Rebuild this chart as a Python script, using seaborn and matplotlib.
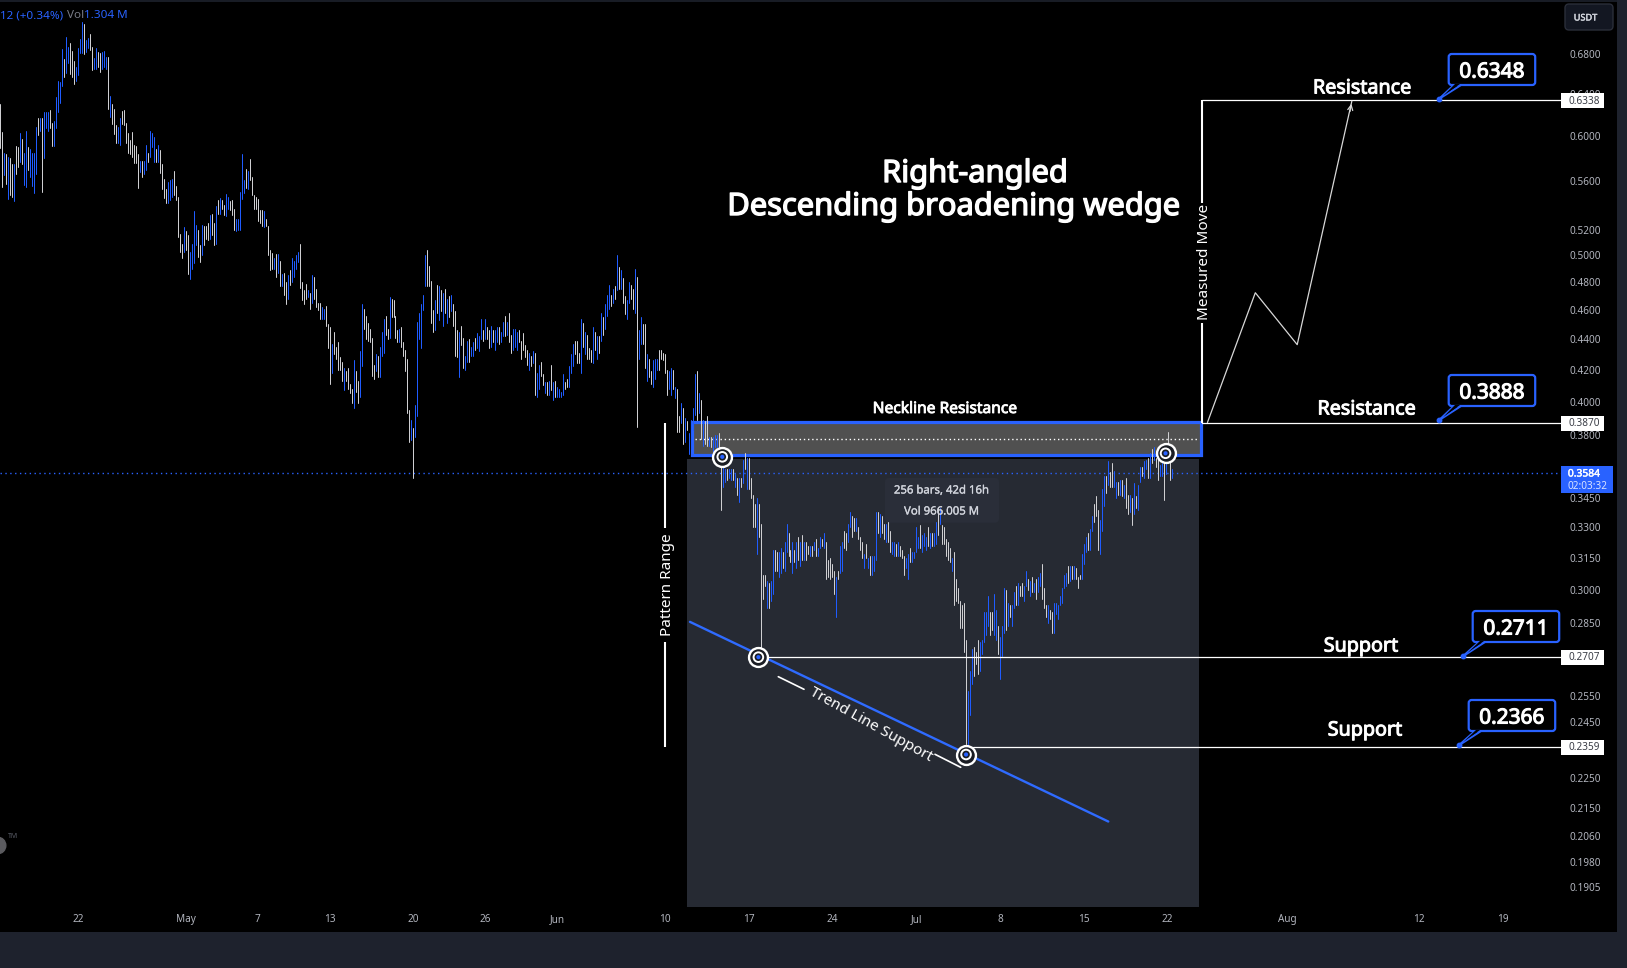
"""Right-angled descending broadening wedge, 4h bars on a log price axis."""
import matplotlib.patheffects as pe
import matplotlib.pyplot as plt
import pandas as pd
import seaborn as sns
from matplotlib.patches import FancyBboxPatch, Polygon, Rectangle
from matplotlib.transforms import Affine2D

BLUE = "#2962ff"
PANEL = "#1e222d"
SHADE = "#262a33"
TICK = "#b2b5be"

highs_a = [
    .630, .604, .585, .584, .581, .580, .575, .575, .591, .590,
    .603, .597, .585, .605, .590, .588, .585, .585, .608, .617,
    .617, .617, .622, .622, .622, .624, .612, .614, .637, .653,
    .652, .685, .675, .698, .687, .692, .683, .673, .667, .686,
    .696, .714, .712, .695, .697, .701, .687, .676, .686, .682,
    .681, .682, .683, .677, .677, .638, .630, .625, .610, .608,
    .617, .623, .624, .612, .603, .596, .604, .592, .591, .584,
    .578, .578, .578, .592, .585, .605, .603, .599, .588, .592,
    .587, .575, .562, .553, .559, .561, .562, .569, .556, .547,
    .517, .509, .522, .519, .516, .503, .509, .535, .524, .520,
    .508, .524, .523, .523, .525, .532, .533, .525, .539, .544,
    .546, .544, .540, .549, .547, .543, .544, .537, .529, .529,
    .551, .584, .561, .571, .569, .579, .564, .548, .547, .545,
    .536, .536, .535, .529, .523, .504, .502, .498, .501, .501,
]
lows_a = [
    .589, .555, .565, .558, .545, .548, .547, .543, .566, .572,
    .577, .575, .557, .555, .570, .564, .556, .550, .566, .601,
    .605, .551, .580, .607, .605, .607, .591, .591, .607, .622,
    .631, .648, .657, .661, .671, .660, .657, .650, .653, .659,
    .681, .681, .680, .682, .686, .684, .664, .665, .665, .667,
    .662, .665, .667, .665, .625, .618, .611, .602, .594, .594,
    .592, .611, .610, .594, .585, .584, .581, .576, .576, .554,
    .568, .564, .566, .570, .577, .581, .590, .577, .577, .577,
    .567, .553, .546, .542, .542, .544, .547, .548, .544, .514,
    .503, .498, .503, .504, .486, .482, .490, .494, .508, .499,
    .495, .500, .508, .513, .512, .513, .516, .508, .509, .533,
    .533, .537, .532, .531, .537, .536, .532, .520, .519, .520,
    .520, .545, .550, .554, .553, .561, .548, .537, .537, .527,
    .525, .523, .522, .523, .500, .489, .490, .490, .484, .487,
]
sides_a = (
    "wwbwbwwbww" "bwbbwbbbbw" "bwbbbwwbbb" "bbwbbwwwbb" "bbwbbwwbbw" "wbbbwbwwwb" "bwwwwwwwww"
    "bwbbwbbbwb" "wwwwbbbwww" "wwbwwbbbbw" "wbwwwbwwbw" "bwwbbwwwbb" "bbbwbwwwww" "wwbwwwwbwb"
)

highs_b = [
    .496, .486, .487, .480, .485, .489, .498, .496, .500, .503,
    .509, .480, .474, .479, .474, .472, .485, .484, .475, .465,
    .465, .462, .461, .463, .450, .448, .437, .445, .435, .438,
    .428, .425, .421, .419, .421, .411, .408, .426, .419, .413,
    .432, .464, .461, .456, .451, .447, .441, .423, .430, .429,
    .435, .445, .454, .456, .447, .469, .468, .467, .456, .446,
    .447, .448, .438, .433, .427, .395, .389, .384, .398, .452,
    .458, .464, .471, .500, .504, .492, .481, .460, .467, .478,
    .477, .474, .472, .475, .468, .470, .471, .464, .459, .446,
    .445, .449, .441, .429, .439, .440, .435, .438, .441, .444,
    .442, .454, .446, .454, .448, .446, .449, .446, .446, .448,
    .448, .445, .452, .456, .452, .458, .443, .447, .447, .445,
    .446, .439, .444, .436, .433, .431, .429, .432, .431, .418,
    .423, .425, .417, .412, .412, .413, .423, .412, .413, .409,
    .408, .406, .417, .412, .414, .422, .430, .437, .439, .439,
    .431, .454, .451, .445, .443, .434, .433, .448, .445, .442,
    .442, .458, .455, .464, .471, .478, .471, .475, .477, .500,
    .491, .489, .483, .470, .467, .480, .478, .475, .490, .484,
    .446, .455, .450, .450, .430, .427, .419, .426, .427, .427,
    .433, .433, .431, .430, .420, .419, .421, .420, .409, .408,
    .391, .399, .396, .390, .388, .381,
]
lows_b = [
    .477, .477, .471, .464, .468, .478, .480, .484, .490, .495,
    .476, .467, .464, .468, .469, .461, .465, .468, .462, .460,
    .454, .454, .454, .449, .434, .411, .418, .430, .427, .420,
    .420, .413, .407, .413, .408, .405, .399, .396, .406, .399,
    .403, .422, .447, .440, .439, .438, .416, .414, .419, .415,
    .415, .429, .431, .443, .440, .441, .455, .455, .441, .438,
    .438, .435, .429, .419, .393, .376, .377, .356, .379, .391,
    .440, .434, .460, .477, .477, .477, .451, .445, .446, .458,
    .453, .459, .449, .458, .451, .455, .459, .449, .429, .428,
    .415, .436, .421, .420, .425, .425, .429, .429, .433, .434,
    .432, .440, .439, .440, .440, .434, .435, .438, .433, .438,
    .437, .438, .442, .442, .443, .438, .431, .433, .435, .433,
    .438, .427, .433, .428, .423, .420, .422, .424, .404, .403,
    .408, .416, .410, .405, .404, .404, .407, .401, .403, .403,
    .403, .403, .404, .408, .409, .409, .418, .422, .430, .424,
    .424, .418, .435, .430, .427, .427, .425, .424, .433, .427,
    .431, .439, .443, .447, .456, .461, .463, .465, .468, .474,
    .475, .475, .465, .457, .454, .465, .468, .461, .458, .385,
    .427, .437, .437, .421, .413, .415, .411, .409, .414, .420,
    .420, .427, .426, .418, .404, .408, .404, .408, .402, .382,
    .382, .387, .375, .376, .383, .369,
]
sides_b = (
    "wbwwbwbbbb" "wwwwbwbwww" "wbbwwwbwww" "wwbwwwwbww" "bbwwwwwwbw" "bbbwwbwwww" "bwwwwwbwbb"
    "bbbbwwwwbw" "bwbwbwbwww" "bwwbbwbbwb" "bbwbwwbwbb" "wbbwbwwbbb" "wwwwwbwbwb" "bwwbwbwbwb"
    "bbbwwbbbww" "wbwbwwwbwb" "wbwbbbwbwb" "wbwwbbwwbw" "bbwwbwwbbb" "wwwwwbbwbw" "wbwbwb"
)

highs_c = [
    .389, .396, .417, .419, .405, .401, .389, .388, .391, .379,
    .379, .379, .380, .380, .381, .367, .367, .361, .361, .361,
    .361, .361, .358, .356, .356, .356, .366, .370, .367, .367,
    .356, .347, .342, .345, .342, .332, .307, .307, .304, .303,
    .304, .319, .319, .318, .318, .320, .318, .323, .332, .327,
    .319, .323, .319, .323, .325, .323, .326, .323, .323, .321,
    .321, .321, .323, .324, .320, .325, .324, .327, .323, .314,
    .315, .312, .309, .306, .309, .321, .323, .328, .327, .332,
    .338, .336, .335, .335, .330, .325, .323, .317, .322, .315,
    .316, .316, .316, .338, .338, .337, .336, .332, .332, .333,
    .328, .323, .323, .322, .323, .321, .319, .316, .315, .317,
    .320, .318, .318, .330, .325, .331, .326, .327, .325, .330,
    .327, .327, .327, .333, .340, .340, .331, .330, .324, .323,
    .320, .315, .318, .305, .301, .295, .293, .294, .278, .257,
    .265, .274, .275, .273, .278, .277, .278, .290, .290, .297,
    .290, .290, .298, .291, .284, .279,
]
lows_c = [
    .372, .383, .392, .389, .393, .378, .374, .375, .374, .374,
    .373, .369, .373, .373, .364, .339, .351, .354, .355, .356,
    .355, .355, .351, .347, .343, .351, .353, .361, .350, .350,
    .345, .330, .330, .317, .325, .271, .296, .302, .292, .292,
    .295, .298, .309, .309, .306, .308, .310, .309, .318, .316,
    .313, .308, .313, .310, .314, .311, .314, .314, .314, .317,
    .316, .316, .319, .316, .316, .320, .321, .320, .305, .306,
    .305, .306, .298, .288, .305, .308, .309, .320, .319, .323,
    .330, .325, .328, .328, .324, .319, .315, .310, .315, .310,
    .307, .307, .309, .314, .327, .325, .327, .324, .323, .323,
    .318, .317, .316, .316, .316, .316, .315, .307, .310, .305,
    .313, .313, .315, .318, .320, .320, .318, .321, .319, .321,
    .320, .321, .321, .322, .326, .332, .322, .322, .316, .314,
    .313, .309, .293, .295, .294, .283, .283, .273, .237, .237,
    .248, .260, .263, .268, .264, .265, .272, .277, .280, .284,
    .280, .282, .280, .278, .272, .262,
]
sides_c = (
    "bbbwbwbwwb" "wbbbwwbbwb" "bwbwbwbwbw" "wwwbwwwwbw" "bbwwbbwbbw" "wbwbwbwbww" "bwbwbbwbww"
    "wwwbwbbwwb" "bwwbwwwbwb" "wbbbwbwwbw" "wbbwbwwwbb" "wbbbbwbbbw" "bwbbwbwwww" "wbwwwwwwwb"
    "bbwwwbbbbb" "wwbbwb"
)

highs_d = [
    .284, .301, .300, .294, .293, .293, .299, .302, .303, .302,
    .303, .302, .309, .305, .304, .306, .303, .305, .306, .308,
    .312, .301, .293, .293, .291, .290, .294, .294, .293, .297,
    .301, .307, .308, .311, .311, .311, .311, .310, .306, .307,
    .317, .322, .325, .327, .329, .336, .342, .346, .339, .334,
    .350, .357, .357, .365, .359, .364, .360, .354, .354, .355,
    .355, .352, .356, .347, .347, .345, .353, .346, .352, .362,
    .362, .365, .366, .367, .370, .372, .373, .367, .371, .363,
    .364, .371, .371, .382, .365, .361,
]
lows_d = [
    .271, .281, .282, .284, .288, .284, .292, .293, .293, .297,
    .297, .295, .302, .300, .297, .299, .299, .296, .299, .302,
    .296, .292, .288, .285, .287, .281, .281, .289, .287, .293,
    .294, .301, .302, .303, .304, .305, .305, .305, .301, .305,
    .305, .312, .318, .319, .319, .328, .333, .336, .319, .317,
    .328, .341, .348, .352, .351, .351, .351, .345, .347, .347,
    .346, .345, .340, .337, .338, .331, .337, .340, .339, .354,
    .357, .356, .361, .356, .356, .364, .366, .362, .355, .357,
    .357, .344, .358, .365, .355, .356,
]
sides_d = (
    "bbwbwbbwbw" "wbbwbwbwbb" "wwwbwwbbbb" "bbbwbwbwww" "bbbwbbwwwb" "bbwbwwbbwb" "wbwwbwbwbb"
    "wbbwbwbwwb" "bwbwwb"
)

# axis ticks
price_ticks = [.68, .64, .60, .56, .52, .50, .48, .46, .44, .42, .40, .38, .345, .33, .315, .30, .285,
               .255, .245, .225, .215, .206, .198, .1905]
tick_days = [0, 9, 15, 21, 28, 34, 40, 49, 56, 63, 70, 77, 84, 91, 101, 112, 119]
tick_labels = ["22", "May", "7", "13", "20", "26", "Jun", "10", "17", "24", "Jul", "8", "15", "22", "Aug",
               "12", "19"]

# horizontal levels drawn from the pattern out to the price scale
level_prices = [.6338, .3870, .2707, .2359]
level_starts = [602.1, 602.1, 384.7, 487.5]
callout_labels = ["0.6348", "0.3888", "0.2711", "0.2366"]

last_price = .3584
trend_bars = [345.6, 555.3]
trend_prices = [.2857, .2106]
path_bars = [605, 629, 650, 677.4]
path_prices = [.3874, .4723, .4363, .6330]
target_bars = [361.8, 379.9, 484, 584]
target_prices = [.3676, .2707, .2333, .3696]

highs = highs_a + highs_b + highs_c + highs_d
lows = lows_a + lows_b + lows_c + lows_d
sides = sides_a + sides_b + sides_c + sides_d

X_MIN, X_MAX = -0.25, 810.3
Y_MIN, Y_MAX = .1779, .7386
LEVEL_END = 782.2
APR22_BAR = 39


def add_text(ax, tf, x, y, label, size, color="white", bold=0, rotation=0, zorder=8, ha="center"):
    # Noto Sans only ships one weight here, so heavy text gets a thin stroke of its own colour
    effects = [pe.withStroke(linewidth=bold, foreground=color)] if bold else None
    ax.text(x, y, label, transform=tf, fontsize=size, color=color, rotation=rotation, ha=ha, va="center",
            rotation_mode="anchor", zorder=zorder, clip_on=False, path_effects=effects)


def add_callout(ax, tf, label, left, top, tip, notch):
    width, height = 86.5, 31
    ax.plot(*zip(*[(notch[0], top + height), tip]), transform=tf, color=BLUE, lw=1.5, zorder=7)
    ax.plot(*zip(*[(notch[1], top + height), tip]), transform=tf, color=BLUE, lw=1.5, zorder=7)
    ax.add_patch(FancyBboxPatch((left, top), width, height, boxstyle="round,pad=0,rounding_size=3", transform=tf,
                                fc="black", ec=BLUE, lw=1.6, zorder=7))
    ax.add_patch(Polygon([(notch[0] + 1, top + height - 1), (notch[1] - 1, top + height - 1),
                          (tip[0] + 4, tip[1] - 3)], transform=tf, fc="black", ec="none", zorder=7.5))
    ax.plot([tip[0]], [tip[1]], "o", transform=tf, color=BLUE, ms=3.2, zorder=8)
    add_text(ax, tf, left + width / 2, top + 18, label, 15, bold=0.8)


def main():
    sns.set_theme(style="dark", rc={"axes.facecolor": "black", "figure.facecolor": PANEL})
    plt.rcParams["font.family"] = ["Noto Sans", "DejaVu Sans"]

    fig = plt.figure(figsize=(16.27, 9.68), dpi=100)
    ax = fig.add_axes([0, 36 / 968, 1617 / 1627, 932 / 968])
    ax.set_yscale("log")
    tf = Affine2D().scale(1, -1).translate(0, 968)

    # pattern zones sit under the bars
    ax.add_patch(Rectangle((344.1, .1849), 256.6, .3663 - .1849, fc=SHADE, ec="none", zorder=1))
    ax.add_patch(Rectangle((346.6, .3684), 255, .3876 - .3684, fc="#505050", ec=BLUE, lw=2.3, zorder=2))
    ax.plot([348, 600], [.3778, .3778], color="white", lw=1, ls=(0, (1, 2)), zorder=2.5)
    ax.plot([0, LEVEL_END], [last_price, last_price], color=BLUE, lw=1, ls=(0, (1, 2.5)), zorder=2.5)
    ax.add_patch(FancyBboxPatch((885, 478), 114, 44.7, boxstyle="round,pad=0,rounding_size=4", transform=tf,
                                fc="#2a2e39", ec="none", zorder=2.6))
    ax.plot([0, 1617], [0.7, 0.7], transform=tf, color=PANEL, lw=1.2, zorder=2.6)

    # every bar is a two point high-low line
    bars = pd.DataFrame({"bar": range(len(highs)), "high": highs, "low": lows, "side": list(sides)})
    long_bars = bars.melt(id_vars=["bar", "side"], value_vars=["high", "low"], value_name="price")
    sns.lineplot(data=long_bars, x="bar", y="price", hue="side", units="bar", estimator=None, sort=False,
                 palette={"b": "#1f5cff", "w": "#cfcfd2"}, linewidth=0.72, legend=False, ax=ax, zorder=3)

    for price, start in zip(level_prices, level_starts):
        sns.lineplot(x=[start, LEVEL_END], y=[price, price], color="white", linewidth=0.9, ax=ax, zorder=4)
    sns.lineplot(x=trend_bars, y=trend_prices, color="#2f6bff", linewidth=1.7, ax=ax, zorder=4)
    sns.lineplot(x=path_bars, y=path_prices, sort=False, estimator=None, color="#d8d8d8", linewidth=0.9, ax=ax,
                 zorder=4)
    ax.annotate("", xy=(path_bars[-1], path_prices[-1]), xytext=(path_bars[-1] - 1.2, path_prices[-1] * .98),
                arrowprops={"arrowstyle": "->", "color": "#d8d8d8", "lw": 0.9, "mutation_scale": 9}, zorder=4)

    # bullseye markers on the touches
    sns.scatterplot(x=target_bars, y=target_prices, s=185, color="#1a1d24", edgecolor="white", linewidth=1.7, ax=ax,
                    zorder=5)
    sns.scatterplot(x=target_bars, y=target_prices, s=48, color="none", edgecolor="white", linewidth=1.4, ax=ax,
                    zorder=5.1)
    sns.scatterplot(x=target_bars, y=target_prices, s=9, color=BLUE, edgecolor="none", ax=ax, zorder=5.2)

    # measured move and pattern range brackets
    for xs, ys in [([1201.7, 1201.7], [100, 203]), ([1201.7, 1201.7], [323, 423]),
                   ([665, 665], [422.7, 528]), ([665, 665], [641.7, 746.7])]:
        ax.plot(xs, ys, transform=tf, color="white", lw=1.5, zorder=4, solid_capstyle="butt")
    for xs, ys in [([778.3, 804], [676.7, 689.3]), ([935, 960.7], [754.3, 767.3])]:
        ax.plot(xs, ys, transform=tf, color="white", lw=1.2, zorder=4)

    add_text(ax, tf, 975, 174, "Right-angled", 22.2, bold=1)
    add_text(ax, tf, 954, 207, "Descending broadening wedge", 22.2, bold=1)
    add_text(ax, tf, 945, 409, "Neckline Resistance", 11.2, bold=0.6)
    add_text(ax, tf, 667.5, 585, "Pattern Range", 11, rotation=90)
    add_text(ax, tf, 1204, 262, "Measured Move", 11, rotation=90)
    add_text(ax, tf, 871, 725, "Trend Line Support", 11, rotation=-29)
    add_text(ax, tf, 1362, 88.5, "Resistance", 14.2, bold=0.7)
    add_text(ax, tf, 1366.5, 409.5, "Resistance", 14.2, bold=0.7)
    add_text(ax, tf, 1361, 646.5, "Support", 14.2, bold=0.7)
    add_text(ax, tf, 1365, 730.5, "Support", 14.2, bold=0.7)
    add_text(ax, tf, 941.7, 491, "256 bars, 42d 16h", 8.2, color="#d1d4dc", bold=0.2)
    add_text(ax, tf, 941.7, 512, "Vol 966.005 M", 8.2, color="#d1d4dc", bold=0.2)

    add_callout(ax, tf, callout_labels[0], 1448.7, 54, (1439.3, 98.7), (1454, 1461))
    add_callout(ax, tf, callout_labels[1], 1448.7, 375, (1439.3, 420), (1454, 1461))
    add_callout(ax, tf, callout_labels[2], 1472.7, 611, (1463.3, 656), (1479, 1485))
    add_callout(ax, tf, callout_labels[3], 1468.7, 700, (1459.3, 745), (1475, 1481))

    # price scale boxes
    for price, center in zip(level_prices, [100, 423, 657, 747]):
        ax.add_patch(Rectangle((1561, center - 7.5), 42.7, 15, transform=tf, fc="white", ec="none", zorder=6))
        add_text(ax, tf, 1584, center + 1, f"{price:.4f}", 7.2, color="#3a3d46")
    ax.add_patch(Rectangle((1561, 466), 51.7, 26.7, transform=tf, fc=BLUE, ec="none", zorder=6))
    add_text(ax, tf, 1584, 474, f"{last_price:.4f}", 7.4, bold=0.3)
    add_text(ax, tf, 1588, 486.5, "02:03:32", 7.2, color="#d8e2ff")
    ax.add_patch(FancyBboxPatch((1565, 4), 48, 26, boxstyle="round,pad=0,rounding_size=4", transform=tf,
                                fc="#131722", ec="#2a2e39", lw=1, zorder=6))
    add_text(ax, tf, 1585.5, 18, "USDT", 6.6, color="#d1d4dc", bold=0.3)

    # legend row and logo stub
    add_text(ax, tf, 0, 16, "12 (+0.34%)", 8.4, color=BLUE, ha="left")
    add_text(ax, tf, 67, 16, "Vol", 8.4, color="#787b86", ha="left")
    add_text(ax, tf, 84, 16, "1.304 M", 8.4, color=BLUE, ha="left")
    ax.plot([-3], [845], "o", transform=tf, color="#5b5b5f", ms=12, zorder=2, clip_on=True)
    add_text(ax, tf, 13, 837, "TM", 5, color="#5d606b")

    ax.set_xlim(X_MIN, X_MAX)
    ax.set_ylim(Y_MIN, Y_MAX)
    ax.set_xlabel("")
    ax.set_ylabel("")
    ax.set_xticks([APR22_BAR + day * 6 for day in tick_days], tick_labels)
    ax.yaxis.tick_right()
    ax.set_yticks(price_ticks, [f"{price:.4f}" for price in price_ticks])
    ax.minorticks_off()
    ax.tick_params(axis="x", length=0, pad=-13, labelsize=7.2, labelcolor=TICK)
    ax.tick_params(axis="y", length=0, pad=-34.5, labelsize=7.2, labelcolor=TICK)
    ax.grid(False)
    sns.despine(ax=ax, left=True, bottom=True, right=True, top=True)

    fig.savefig("out.png", dpi=100, facecolor=PANEL)
    plt.close(fig)


if __name__ == "__main__":
    main()
